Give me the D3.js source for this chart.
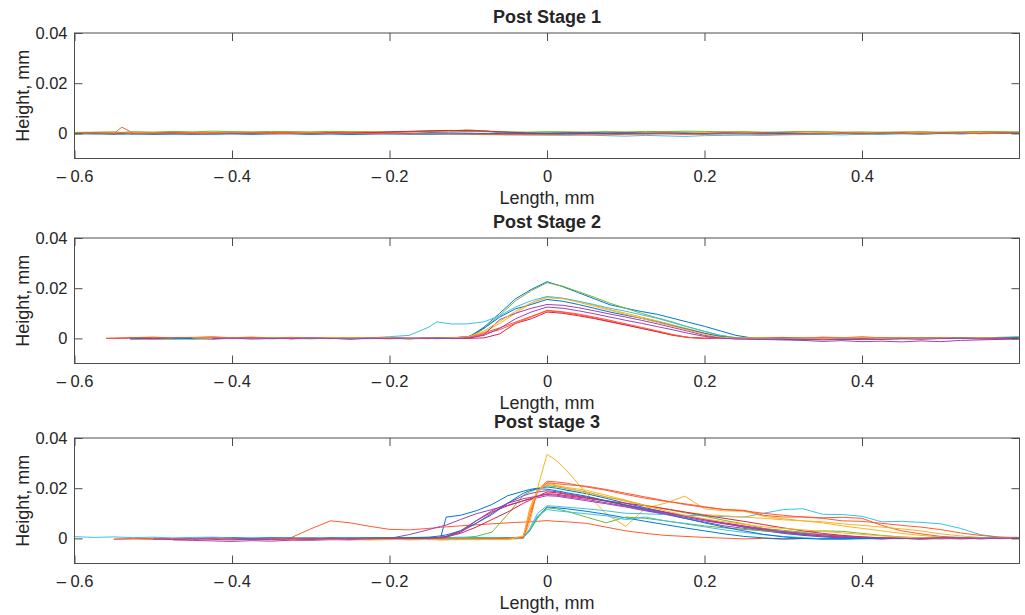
<!DOCTYPE html>
<html><head><meta charset="utf-8">
<script src="https://cdn.jsdelivr.net/npm/d3@7"></script>
<style>
body{margin:0;background:#fff;}
svg text{font-family:"Liberation Sans",Arial,Helvetica,sans-serif;fill:#262626;}
</style></head><body>
<svg id="chart" width="1025" height="615"></svg>
<script>
// ---------- labels / ticks ----------
const panelTitles = ["Post Stage 1", "Post Stage 2", "Post stage 3"];
const xLabelText = "Length, mm";
const yLabelText = "Height, mm";
const xTickValues = [-0.6, -0.4, -0.2, 0, 0.2, 0.4];
const yTickValues = [0, 0.02, 0.04];
const xDomain = [-0.6, 0.6];
const yDomain = [-0.01, 0.04];

// ---------- Post Stage 1 ----------
const stage1X = [-0.6,-0.575,-0.55,-0.54,-0.525,-0.5,-0.475,-0.45,-0.425,-0.4,-0.375,-0.35,-0.325,-0.3,-0.275,-0.25,-0.225,-0.2,-0.175,-0.15,-0.125,-0.1,-0.075,-0.05,-0.025,0,0.025,0.05,0.075,0.1,0.125,0.15,0.175,0.2,0.225,0.25,0.275,0.3,0.325,0.35,0.375,0.4,0.425,0.45,0.475,0.5,0.525,0.55,0.575,0.599];
const stage1Lines = [
 [.0002,-.0001,.0000,.0001,-.0002,.0001,.0003,-.0001,.0002,.0000,-.0002,.0001,.0002,-.0001,.0000,.0002,.0001,-.0002,.0000,.0003,.0002,.0001,-.0001,.0000,.0002,-.0001,.0001,.0003,.0000,-.0001,.0002,.0001,.0000,-.0002,.0001,.0002,.0000,.0001,-.0001,.0002,.0000,.0001,-.0001,.0000,.0002,.0001,-.0001,.0001,.0002,.0003],
 [.0001,.0000,-.0001,.0025,.0000,-.0002,.0001,.0003,.0000,.0002,-.0001,.0001,.0002,.0000,.0003,.0001,.0002,.0004,.0006,.0008,.0010,.0014,.0009,-.0003,-.0005,-.0004,-.0002,.0000,.0001,-.0001,.0002,.0000,.0001,.0003,.0001,.0000,.0002,-.0001,.0001,.0000,.0002,.0001,.0003,.0000,-.0002,.0001,.0000,.0002,.0001,.0002],
 [.0003,.0002,.0004,.0003,.0001,.0004,.0005,.0003,.0004,.0006,.0004,.0003,.0005,.0004,.0006,.0005,.0007,.0005,.0006,.0008,.0009,.0008,.0006,.0005,.0004,.0003,.0005,.0004,.0006,.0003,.0005,.0007,.0005,.0004,.0006,.0005,.0003,.0004,.0006,.0005,.0004,.0003,.0005,.0004,.0002,.0004,.0005,.0003,.0004,.0005],
 [-.0001,.0001,-.0002,-.0001,.0000,-.0003,-.0001,.0001,-.0002,.0000,.0002,-.0001,.0000,-.0002,.0001,.0000,.0003,.0005,.0007,.0009,.0011,.0010,.0008,.0004,.0001,.0000,-.0002,.0001,.0000,.0002,-.0001,.0000,.0001,-.0001,.0002,.0000,-.0002,.0001,.0000,-.0001,.0001,-.0002,.0000,.0001,-.0002,.0000,.0001,-.0001,.0000,.0001],
 [.0004,.0005,.0006,.0004,.0007,.0005,.0008,.0006,.0009,.0007,.0006,.0008,.0007,.0006,.0008,.0007,.0006,.0005,.0008,.0009,.0010,.0008,.0007,.0006,.0005,.0007,.0006,.0005,.0007,.0006,.0008,.0007,.0009,.0008,.0006,.0007,.0005,.0006,.0008,.0007,.0005,.0006,.0004,.0006,.0007,.0005,.0006,.0008,.0007,.0006],
 [.0000,-.0003,-.0001,-.0002,-.0004,-.0002,-.0003,-.0001,-.0004,-.0002,-.0003,-.0001,-.0002,-.0004,-.0002,-.0003,-.0001,-.0002,-.0004,-.0003,-.0002,-.0004,-.0005,-.0006,-.0005,-.0007,-.0008,-.0006,-.0009,-.0011,-.0008,-.0010,-.0012,-.0009,-.0008,-.0007,-.0008,-.0006,-.0005,-.0004,-.0006,-.0003,-.0004,-.0002,-.0003,-.0001,-.0002,.0000,-.0001,.0000],
 [.0000,.0001,.0000,-.0001,.0001,.0000,.0002,.0000,.0001,-.0001,.0000,.0002,.0001,.0000,.0002,.0001,.0003,.0006,.0008,.0010,.0012,.0011,.0009,.0005,.0002,.0000,.0001,-.0001,.0000,.0001,.0000,.0002,.0000,-.0001,.0001,.0000,.0002,.0001,.0000,-.0001,.0001,.0000,-.0001,.0001,.0000,.0001,-.0001,.0000,.0001,.0000],
 [-.0002,-.0001,-.0003,-.0002,-.0001,-.0003,-.0002,-.0004,-.0002,-.0001,-.0003,-.0002,-.0001,-.0003,-.0002,-.0004,-.0003,-.0001,-.0002,-.0003,-.0002,-.0001,-.0003,-.0002,-.0001,.0000,.0002,.0003,.0001,.0002,.0000,-.0001,.0000,-.0002,-.0001,-.0002,-.0001,.0000,-.0002,-.0001,.0000,-.0001,.0001,.0000,-.0001,.0000,.0001,.0000,.0001,.0000],
 [-.0001,.0001,.0000,.0002,-.0001,.0000,.0001,-.0001,.0000,.0002,.0001,.0000,-.0001,.0001,.0000,.0001,-.0001,.0000,-.0002,-.0001,-.0002,-.0003,-.0004,-.0005,-.0006,-.0005,-.0004,-.0006,-.0005,-.0004,-.0003,-.0002,-.0004,-.0003,-.0002,-.0001,-.0003,-.0004,-.0002,-.0001,.0000,-.0002,-.0001,.0000,-.0001,.0001,.0000,-.0001,.0000,.0001]
];

// ---------- Post Stage 2 ----------
const stage2X = [-0.56,-0.53,-0.5,-0.475,-0.45,-0.425,-0.4,-0.375,-0.35,-0.325,-0.3,-0.275,-0.25,-0.225,-0.2,-0.175,-0.15,-0.14,-0.12,-0.1,-0.08,-0.06,-0.04,-0.02,0,0.02,0.04,0.06,0.08,0.1,0.12,0.14,0.16,0.18,0.2,0.22,0.24,0.27,0.3,0.325,0.35,0.375,0.4,0.425,0.45,0.475,0.5,0.525,0.55,0.575,0.599];
const stage2Lines = [
 [null,.0001,-.0002,.0000,.0002,-.0001,.0001,.0000,.0002,-.0001,.0001,.0000,-.0002,.0001,.0000,-.0001,.0001,.0002,.0001, .0003,.0045,.0100,.0158,.0195,.0226,.0206,.0182,.0158,.0134,.0120,.0107,.0096,.0080,.0064,.0048,.0030,.0012, -.0003,-.0005,-.0002,.0001,-.0003,.0000,-.0002,.0001,-.0001,.0000,.0002,.0001,.0003,.0005],
 [null,.0002,.0004,.0001,.0003,.0005,.0002,.0004,.0001,.0003,.0002,.0000,.0003,.0001,.0002,.0000,.0001,-.0001,.0002, .0008,.0022,.0042,.0065,.0088,.0110,.0104,.0094,.0082,.0068,.0055,.0040,.0026,.0012,.0003,.0000,.0002,-.0001, .0001,.0003,.0000,.0004,.0002,.0005,.0003,.0001,.0004,.0002,.0000,.0003,.0001,.0002],
 [null,null,.0001,-.0001,.0002,.0000,.0003,.0001,-.0001,.0002,.0000,.0001,.0003,.0000,-.0002,.0001,.0000,.0002,.0001, .0004,.0025,.0060,.0100,.0140,.0166,.0160,.0148,.0132,.0115,.0100,.0085,.0070,.0054,.0038,.0022,.0008,.0001, .0002,.0000,-.0002,.0001,.0003,.0000,.0002,-.0001,.0001,.0000,.0002,.0001,-.0001,.0001],
 [null,null,null,.0000,-.0002,.0001,-.0001,.0000,.0002,-.0001,.0000,.0001,-.0002,.0000,.0001,-.0001,.0000,.0001,-.0001, .0000,.0015,.0075,.0100,.0120,.0135,.0132,.0122,.0110,.0097,.0085,.0072,.0058,.0043,.0028,.0012,.0003,-.0002, -.0004,-.0006,-.0008,-.0012,-.0009,-.0013,-.0011,-.0014,-.0010,-.0013,-.0008,-.0006,-.0004,-.0002],
 [null,null,.0002,.0000,.0001,-.0001,.0002,.0000,.0001,.0003,.0000,-.0001,.0002,.0001,.0000,-.0002,.0001,.0000,.0002, .0002,.0040,.0092,.0150,.0190,.0222,.0208,.0186,.0164,.0140,.0120,.0100,.0082,.0065,.0045,.0028,.0012,.0003, .0000,-.0002,.0001,.0000,.0002,-.0001,.0000,.0001,.0003,.0000,.0002,.0001,.0004,.0006],
 [null,-.0005,-.0003,-.0004,-.0002,-.0003,.0000,-.0002,-.0001,.0000,-.0002,.0001,-.0001,.0002,.0007,.0012,.0045,.0066,.0057, .0058,.0066,.0090,.0125,.0150,.0167,.0160,.0148,.0135,.0120,.0108,.0094,.0080,.0062,.0045,.0028,.0012,.0002, -.0005,-.0004,-.0002,.0000,-.0002,.0001,-.0001,.0000,.0002,.0001,.0000,.0002,.0003,.0004],
 [.0000,.0001,-.0001,.0002,.0000,-.0002,.0001,.0000,.0002,-.0001,.0000,.0001,-.0001,.0000,.0002,.0000,-.0001,.0001,.0000, .0000,.0002,.0018,.0060,.0078,.0105,.0100,.0090,.0079,.0066,.0053,.0040,.0027,.0013,.0004,.0000,.0002,.0000, -.0001,.0001,.0003,.0000,.0002,-.0001,.0001,.0000,-.0002,.0000,.0001,-.0001,-.0002,-.0001],
 [null,null,null,.0001,-.0001,.0000,.0002,.0001,-.0001,.0000,.0002,.0001,.0000,-.0001,.0001,.0000,.0002,.0001,.0003, .0006,.0040,.0085,.0118,.0135,.0155,.0148,.0135,.0120,.0105,.0092,.0080,.0066,.0050,.0035,.0020,.0008,.0000, -.0002,-.0004,-.0006,-.0003,-.0005,-.0002,-.0003,.0000,-.0001,.0001,.0000,.0002,.0004,.0003],
 [.0000,.0003,.0005,.0002,.0004,.0006,.0003,.0005,.0002,.0004,.0001,.0003,.0000,.0002,.0001,-.0001,.0001,.0000,.0002, .0005,.0018,.0035,.0060,.0085,.0112,.0106,.0097,.0085,.0072,.0058,.0044,.0030,.0015,.0004,.0001,.0003,.0000, .0002,.0004,.0001,.0005,.0003,.0006,.0002,.0004,.0001,.0003,.0000,.0002,.0000,-.0001],
 [null,null,null,null,.0002,.0000,.0001,-.0001,.0002,.0000,.0001,.0003,.0001,.0000,.0002,-.0001,.0001,.0000,.0002, .0006,.0030,.0068,.0108,.0142,.0162,.0158,.0144,.0128,.0112,.0096,.0080,.0064,.0048,.0032,.0016,.0005,.0000, .0001,-.0001,.0002,.0000,.0001,.0003,.0000,.0002,-.0001,.0001,.0000,.0002,.0001,.0000],
 [null,null,null,null,null,-.0001,.0001,-.0002,.0000,-.0001,.0001,.0000,-.0002,.0000,-.0001,.0001,.0000,-.0001,.0000, .0002,.0012,.0040,.0078,.0105,.0125,.0120,.0110,.0098,.0085,.0072,.0060,.0047,.0034,.0020,.0008,.0001,-.0002, -.0003,-.0002,-.0004,-.0006,-.0003,-.0005,-.0004,-.0002,-.0003,-.0001,.0000,-.0002,-.0001,.0000]
];

// ---------- Post stage 3 ----------
const stage3X = [-0.6,-0.575,-0.55,-0.525,-0.5,-0.475,-0.45,-0.425,-0.4,-0.375,-0.35,-0.325,-0.3,-0.275,-0.25,-0.225,-0.2,-0.175,-0.15,-0.135,-0.128,-0.11,-0.09,-0.07,-0.05,-0.03,-0.022,-0.012,0,0.012,0.025,0.05,0.075,0.1,0.125,0.15,0.175,0.2,0.225,0.25,0.275,0.3,0.325,0.35,0.375,0.4,0.425,0.45,0.475,0.5,0.525,0.55,0.575,0.599];
const stage3Lines = [
 [null,null,null,null,.0001,-.0001,.0000,.0002,-.0001,.0000,.0001,-.0002,.0000,.0001,-.0001,.0002,.0001,.0000, .0002,.0004,.0085,.0092,.0110,.0135,.0170,.0188,.0195,.0200,.0205,.0200,.0192,.0178,.0160,.0140,.0122,.0105,.0090, .0075,.0060,.0045,.0032,.0020,.0012,.0006,.0002,-.0001,.0001,.0000,-.0002,.0001,.0000,.0002,.0001,.0003],
 [null,null,-.0003,-.0002,-.0004,-.0001,-.0003,.0000,-.0002,-.0001,.0000,.0003,.0038,.0070,.0062,.0048,.0036,.0034, .0040,.0044,.0046,.0050,.0054,.0058,.0062,.0065,.0066,.0068,.0071,.0068,.0066,.0060,.0045,.0030,.0020,.0012,.0008, .0004,.0001,-.0002,.0000,-.0003,-.0001,.0000,-.0002,.0001,-.0001,.0000,-.0002,-.0001,.0000,-.0001,.0001,.0000],
 [null,null,null,null,null,null,null,null,-.0003,-.0005,-.0004,-.0006,-.0003,-.0005,-.0004,-.0006,-.0005,-.0003, -.0005,-.0004,-.0006,-.0004,-.0005,-.0003,-.0004,.0000,.0060,.0200,.0335,.0310,.0270,.0180,.0098,.0048,.0120,.0140,.0168, .0118,.0110,.0108,.0088,.0078,.0070,.0062,.0050,.0040,.0030,.0020,.0012,.0005,.0002,-.0001,.0001,.0000],
 [null,null,null,null,null,-.0006,-.0008,-.0010,-.0012,-.0009,-.0011,-.0007,-.0008,-.0005,-.0006,-.0003,.0000,.0015, .0035,.0048,.0053,.0075,.0098,.0115,.0132,.0150,.0156,.0162,.0170,.0168,.0162,.0150,.0138,.0125,.0110,.0096,.0080, .0065,.0050,.0040,.0030,.0022,.0015,.0010,.0006,.0004,.0002,.0000,.0001,-.0001,.0000,.0001,.0000,.0001],
 [null,null,null,null,null,null,null,null,.0001,.0000,.0002,.0001,.0000,.0002,.0001,-.0001,.0001,.0000, .0001,.0002,.0001,.0003,.0008,.0025,.0095,.0172,.0185,.0198,.0210,.0206,.0198,.0185,.0165,.0150,.0132,.0118,.0102, .0088,.0072,.0058,.0040,.0032,.0025,.0030,.0028,.0020,.0012,.0006,.0002,.0000,.0001,-.0001,.0000,.0001],
 [.0007,.0004,.0006,.0003,.0005,.0002,.0004,.0005,.0003,.0002,.0004,.0001,.0003,.0002,.0000,.0002,.0001,.0003, .0002,.0004,.0003,.0005,.0002,.0004,.0003,.0001,.0040,.0100,.0130,.0128,.0124,.0118,.0110,.0100,.0098,.0095,.0092, .0090,.0087,.0085,.0100,.0115,.0118,.0096,.0095,.0088,.0066,.0068,.0064,.0058,.0040,.0015,.0005,.0004],
 [null,null,null,null,null,null,null,null,null,-.0002,.0000,-.0001,.0001,-.0002,.0000,.0001,-.0001,.0000, .0001,.0003,.0006,.0020,.0045,.0075,.0105,.0140,.0152,.0168,.0185,.0182,.0175,.0162,.0148,.0132,.0118,.0104,.0090, .0076,.0062,.0050,.0038,.0026,.0016,.0009,.0004,.0001,.0000,-.0001,.0001,.0000,-.0002,.0000,.0001,.0000],
 [null,null,null,null,null,null,null,-.0001,.0001,.0000,-.0002,.0001,.0000,-.0001,.0002,.0000,.0001,-.0001, .0000,.0002,.0001,.0000,.0002,.0001,.0003,.0005,.0030,.0085,.0125,.0122,.0118,.0108,.0096,.0082,.0068,.0055,.0042, .0030,.0018,.0008,.0002,-.0002,.0000,-.0001,.0001,.0000,-.0001,.0001,.0000,.0002,.0000,.0001,.0000,.0002],
 [null,null,null,null,null,null,null,null,null,null,null,null,-.0003,-.0001,-.0004,-.0002,-.0003,-.0001, -.0004,-.0002,-.0003,-.0001,-.0003,-.0002,-.0001,.0002,.0080,.0190,.0228,.0225,.0220,.0205,.0192,.0175,.0160,.0148,.0138, .0126,.0115,.0112,.0092,.0085,.0086,.0082,.0084,.0080,.0052,.0030,.0018,.0008,.0004,.0001,-.0001,.0000],
 [null,null,null,null,null,null,null,null,null,null,null,-.0004,-.0006,-.0003,-.0005,-.0004,-.0002,-.0005, -.0003,-.0006,-.0004,-.0005,-.0003,-.0004,-.0002,.0005,.0120,.0195,.0220,.0212,.0200,.0182,.0165,.0148,.0130,.0118,.0105, .0095,.0090,.0085,.0080,.0074,.0070,.0066,.0058,.0052,.0045,.0038,.0030,.0018,.0010,.0004,.0001,.0000],
 [null,null,null,null,null,null,-.0002,.0000,-.0001,-.0003,-.0001,.0000,-.0002,-.0001,.0001,-.0001,.0000,.0001, .0002,.0004,.0008,.0025,.0060,.0100,.0140,.0170,.0178,.0185,.0190,.0186,.0178,.0165,.0150,.0134,.0118,.0102,.0088, .0074,.0060,.0047,.0035,.0024,.0015,.0008,.0003,.0000,-.0002,.0000,.0001,-.0001,.0000,.0001,.0000,.0001],
 [null,null,null,null,null,null,null,null,null,null,.0002,.0000,.0001,-.0001,.0001,.0000,.0002,.0000, .0001,.0000,.0002,.0001,.0000,.0002,.0001,.0003,.0030,.0080,.0122,.0118,.0108,.0085,.0062,.0085,.0080,.0070,.0060, .0050,.0042,.0036,.0030,.0028,.0022,.0016,.0010,.0006,.0003,.0001,.0000,-.0001,.0001,.0000,.0001,.0000],
 [null,null,null,null,null,null,null,null,null,null,null,null,null,.0003,.0001,.0002,.0000,.0003, .0001,.0002,.0000,.0002,.0001,.0003,.0001,.0002,.0035,.0090,.0115,.0110,.0106,.0098,.0090,.0075,.0085,.0070,.0058, .0046,.0034,.0024,.0015,.0008,.0003,-.0002,-.0004,-.0002,.0000,-.0001,.0001,.0000,.0002,.0001,.0003,.0004],
 [null,null,null,null,null,null,null,null,null,null,null,.0000,-.0002,.0001,-.0001,.0000,.0002,.0000, .0002,.0005,.0008,.0030,.0070,.0105,.0130,.0150,.0158,.0168,.0178,.0176,.0170,.0160,.0150,.0140,.0130,.0118,.0105, .0092,.0080,.0068,.0055,.0042,.0030,.0020,.0012,.0006,.0002,.0000,-.0002,.0000,.0001,-.0001,.0000,.0001],
 [null,null,null,null,null,null,null,null,.0001,-.0001,.0002,.0000,-.0002,.0001,.0000,.0002,.0001,.0003, .0005,.0010,.0014,.0030,.0060,.0095,.0140,.0180,.0190,.0198,.0196,.0190,.0182,.0168,.0150,.0132,.0115,.0098,.0080, .0062,.0045,.0030,.0016,.0006,.0000,-.0003,-.0002,.0000,-.0001,.0001,.0000,.0002,.0001,.0000,.0002,.0001],
 [null,null,-.0003,-.0001,.0000,-.0002,-.0001,.0001,-.0002,-.0003,-.0001,.0000,-.0002,-.0001,-.0003,.0000,-.0002,-.0001, -.0003,-.0002,-.0004,-.0002,-.0003,-.0001,.0000,.0004,.0100,.0185,.0222,.0218,.0214,.0208,.0195,.0180,.0165,.0150,.0135, .0124,.0115,.0110,.0100,.0092,.0085,.0080,.0070,.0068,.0060,.0052,.0045,.0035,.0022,.0012,.0005,.0002],
 [null,null,null,null,null,null,null,null,null,null,null,null,null,null,null,-.0005,-.0003,-.0006, -.0004,-.0006,-.0005,-.0003,-.0005,-.0004,-.0005,.0010,.0110,.0190,.0215,.0210,.0203,.0192,.0172,.0152,.0130,.0110,.0092, .0078,.0066,.0056,.0046,.0040,.0034,.0028,.0022,.0016,.0010,.0005,.0002,.0000,-.0001,.0000,.0001,.0000],
 [null,null,null,null,-.0003,-.0005,-.0002,-.0004,-.0006,-.0003,-.0005,-.0002,-.0004,-.0001,-.0003,-.0002,.0000,-.0001, .0000,.0002,.0004,.0025,.0070,.0110,.0140,.0158,.0163,.0168,.0175,.0172,.0166,.0155,.0142,.0128,.0112,.0098,.0084, .0070,.0058,.0046,.0036,.0027,.0020,.0014,.0008,.0004,.0001,.0000,-.0001,.0001,.0000,-.0001,.0000,.0001]
];

// ---------- drawing ----------
const palette = ["#0077D0","#FF5A30","#FFB020","#A040B8","#70B830","#38C0F0","#E0204A"];
const panels = [
  {title: panelTitles[0], xs: stage1X, lines: stage1Lines, top: 33},
  {title: panelTitles[1], xs: stage2X, lines: stage2Lines, top: 238},
  {title: panelTitles[2], xs: stage3X, lines: stage3Lines, top: 438}
];
const plotH = 125.5, left = 74.5, right = 1019.5;
const svg = d3.select("#chart");
const x = d3.scaleLinear().domain(xDomain).range([left, right]);
const fmtX = v => (v < 0 ? "\u2013 " + d3.format("")(Math.abs(v)) : d3.format("")(v));
const fmtY = v => d3.format("")(v);
const cx = (left + right) / 2;

panels.forEach((p, i) => {
  const top = p.top, bot = top + plotH;
  const y = d3.scaleLinear().domain(yDomain).range([bot, top]);
  const g = svg.append("g");
  const clipId = "clip" + i;
  svg.append("clipPath").attr("id", clipId).append("rect")
    .attr("x", left).attr("y", top).attr("width", right - left).attr("height", plotH);

  const line = d3.line().defined(d => d[1] != null).x(d => x(d[0])).y(d => y(d[1]));
  const lg = g.append("g").attr("clip-path", `url(#${clipId})`);
  p.lines.forEach((ys, k) => {
    lg.append("path")
      .datum(p.xs.map((xv, j) => [xv, ys[j]]))
      .attr("d", line)
      .attr("fill", "none")
      .attr("stroke", palette[k % palette.length])
      .attr("stroke-width", 1)
      .attr("stroke-linejoin", "round");
  });

  // axes (ticks inside, MATLAB style)
  const axB = g.append("g").attr("transform", `translate(0,${bot})`)
    .call(d3.axisBottom(x).tickValues(xTickValues).tickSizeInner(-8).tickSizeOuter(0).tickPadding(12).tickFormat(fmtX));
  const axT = g.append("g").attr("transform", `translate(0,${top})`)
    .call(d3.axisTop(x).tickValues(xTickValues).tickSizeInner(-8).tickSizeOuter(0).tickFormat(""));
  const axL = g.append("g").attr("transform", `translate(${left},0)`)
    .call(d3.axisLeft(y).tickValues(yTickValues).tickSizeInner(-8).tickSizeOuter(0).tickPadding(7).tickFormat(fmtY));
  const axR = g.append("g").attr("transform", `translate(${right},0)`)
    .call(d3.axisRight(y).tickValues(yTickValues).tickSizeInner(-8).tickSizeOuter(0).tickFormat(""));
  [axB, axT, axL, axR].forEach(a => {
    a.select(".domain").remove();
    a.selectAll(".tick line").attr("stroke", "#4d4d4d");
    a.selectAll("text").attr("font-size", 16.5).attr("fill", "#262626")
      .style("font-family", '"Liberation Sans", Arial, sans-serif');
  });
  g.append("rect").attr("x", left).attr("y", top).attr("width", right - left).attr("height", plotH)
    .attr("fill", "none").attr("stroke", "#4d4d4d").attr("stroke-width", 1);

  g.append("text").attr("x", cx).attr("y", top - 10).attr("text-anchor", "middle")
    .attr("font-size", 18).attr("font-weight", "bold").attr("fill", "#000").text(p.title);
  g.append("text").attr("x", cx).attr("y", bot + 45).attr("text-anchor", "middle")
    .attr("font-size", 18).text(xLabelText);
  g.append("text").attr("transform", `translate(28.5,${(top + bot) / 2}) rotate(-90)`)
    .attr("text-anchor", "middle").attr("font-size", 18).text(yLabelText);
});
</script>
</body></html>
